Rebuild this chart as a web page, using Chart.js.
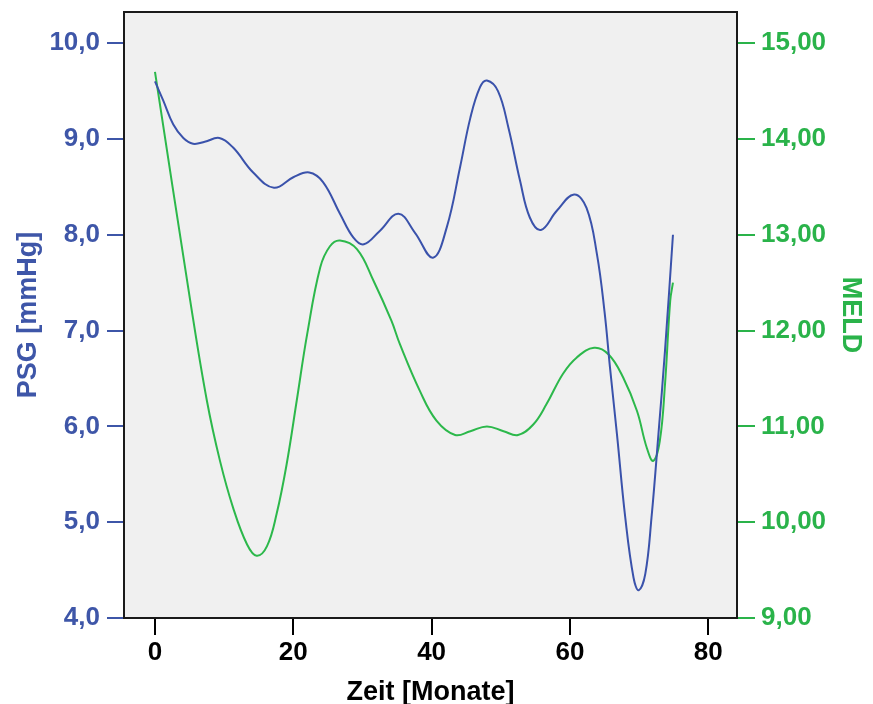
<!DOCTYPE html>
<html>
<head>
<meta charset="utf-8">
<script src="https://cdn.jsdelivr.net/npm/chart.js@4"></script>
<style>
html, body { margin: 0; padding: 0; background: #fff; }
</style>
</head>
<body>
<canvas id="chart-psg" width="873" height="704"></canvas>
<script>
// PSG-Verlauf (blau, linke Achse)
var psgZeit  = [0, 1.2, 2.65, 4.1, 5.5, 7.2, 9.3, 11.3, 14.2, 17.2, 20.0, 22.3, 24.3, 26.75, 28.7, 30.2, 32.5, 35.2, 37.6, 40.2, 42.2, 44.1, 45.6, 47.0, 48.0, 49.6, 51.1, 52.8, 54.2, 55.8, 58.1, 60.6, 62.4, 63.9, 65.0, 65.8, 66.8, 68.0, 69.2, 69.95, 70.9, 71.8, 72.8, 73.75, 74.9];
var psgWerte = [9.60, 9.40, 9.15, 9.01, 8.95, 8.97, 9.01, 8.91, 8.65, 8.49, 8.60, 8.65, 8.55, 8.22, 7.97, 7.90, 8.04, 8.22, 8.02, 7.76, 8.08, 8.70, 9.22, 9.54, 9.61, 9.50, 9.12, 8.56, 8.18, 8.05, 8.25, 8.42, 8.28, 7.80, 7.20, 6.61, 5.92, 5.05, 4.42, 4.29, 4.46, 5.05, 5.92, 6.79, 8.00];

// MELD-Verlauf (gruen, rechte Achse)
var meldZeit  = [0, 5.1, 7.5, 9.4, 11.3, 13.3, 14.7, 16.2, 17.6, 19.05, 20.5, 22.0, 23.9, 25.3, 26.75, 29.2, 31.6, 34.2, 35.4, 38.3, 40.7, 43.4, 45.6, 48.0, 50.4, 52.5, 54.7, 56.6, 59.0, 61.0, 63.5, 65.6, 67.7, 69.7, 71.1, 72.05, 73.0, 73.75, 74.5, 74.9];
var meldWerte = [14.70, 12.31, 11.27, 10.64, 10.15, 9.77, 9.65, 9.75, 10.09, 10.61, 11.27, 11.96, 12.66, 12.88, 12.94, 12.85, 12.52, 12.10, 11.86, 11.37, 11.06, 10.91, 10.95, 11.00, 10.95, 10.91, 11.02, 11.23, 11.55, 11.72, 11.82, 11.75, 11.51, 11.16, 10.78, 10.64, 10.85, 11.44, 12.31, 12.50];

var xTicks    = [0, 20, 40, 60, 80];
var psgTicks  = [4, 5, 6, 7, 8, 9, 10];
var meldTicks = [9, 10, 11, 12, 13, 14, 15];

var blau = '#3e56a8';
var gruen = '#2ab34a';
var schrift = "'Liberation Sans', Arial, sans-serif";

function punkte(xs, ys) {
    return xs.map(function(x, i) { return {x: x, y: ys[i]}; });
}

function ohnePadding(scale) {
    scale.paddingTop = 0;
    scale.paddingBottom = 0;
    scale.paddingLeft = 0;
    scale.paddingRight = 0;
}

var rahmen = {
    id: 'rahmen',
    beforeDraw: function(chart) {
        var a = chart.chartArea, ctx = chart.ctx;
        ctx.save();
        ctx.fillStyle = '#f0f0f0';
        ctx.fillRect(a.left, a.top, a.right - a.left, a.bottom - a.top);
        ctx.restore();
    },
    afterDraw: function(chart) {
        var a = chart.chartArea, ctx = chart.ctx;
        ctx.save();
        ctx.strokeStyle = '#1a1a1a';
        ctx.lineWidth = 2;
        ctx.strokeRect(a.left, a.top, a.right - a.left, a.bottom - a.top);
        ctx.restore();
    }
};

const ctx = document.getElementById('chart-psg').getContext('2d');
const myChart = new Chart(ctx, {
    type: 'scatter',
    data: {
        datasets: [{
            label: 'PSG [mmHg]',
            data: punkte(psgZeit, psgWerte),
            yAxisID: 'y',
            showLine: true,
            borderColor: '#3a52ab',
            borderWidth: 2,
            pointRadius: 0,
            tension: 0.4
        },
        {
            label: 'MELD',
            data: punkte(meldZeit, meldWerte),
            yAxisID: 'y2',
            showLine: true,
            borderColor: '#2cb84b',
            borderWidth: 2,
            pointRadius: 0,
            tension: 0.4
        }]
    },
    options: {
        responsive: false,
        animation: false,
        devicePixelRatio: 1,
        layout: { padding: { top: 12, left: 0, right: 0, bottom: 0 } },
        plugins: { legend: { display: false }, tooltip: { enabled: false } },
        scales: {
            x: {
                type: 'linear',
                position: 'bottom',
                min: -4.48,
                max: 84.16,
                afterBuildTicks: function(s) { s.ticks = xTicks.map(function(v) { return {value: v}; }); },
                afterFit: function(s) { s.height = 86; ohnePadding(s); },
                border: { display: false },
                grid: { drawOnChartArea: false, tickLength: 17, color: '#000', lineWidth: 2 },
                ticks: { color: '#000', padding: 2, maxRotation: 0, font: { family: schrift, size: 26, weight: 'bold' } },
                title: { display: true, text: 'Zeit [Monate]', color: '#000', padding: 0,
                         font: { family: schrift, size: 27, weight: 'bold', lineHeight: 0.85 } }
            },
            y: {
                position: 'left',
                min: 4,
                max: 10.325,
                afterBuildTicks: function(s) { s.ticks = psgTicks.map(function(v) { return {value: v}; }); },
                afterFit: function(s) { s.width = 124; ohnePadding(s); },
                border: { display: false },
                grid: { drawOnChartArea: false, tickLength: 17, color: blau, lineWidth: 2 },
                ticks: { color: blau, padding: 7, font: { family: schrift, size: 26, weight: 'bold' },
                         callback: function(v) { return v.toFixed(1).replace('.', ','); } },
                title: { display: true, text: 'PSG [mmHg]', color: blau, padding: 12,
                         font: { family: schrift, size: 27, weight: 'bold' } }
            },
            y2: {
                position: 'right',
                min: 9,
                max: 15.325,
                afterBuildTicks: function(s) { s.ticks = meldTicks.map(function(v) { return {value: v}; }); },
                afterFit: function(s) { s.width = 136; ohnePadding(s); },
                border: { display: false },
                grid: { drawOnChartArea: false, tickLength: 18, color: gruen, lineWidth: 2 },
                ticks: { color: gruen, padding: 6, font: { family: schrift, size: 26, weight: 'bold' },
                         callback: function(v) { return v.toFixed(2).replace('.', ','); } },
                title: { display: true, text: 'MELD', color: gruen, padding: 6,
                         font: { family: schrift, size: 27, weight: 'bold' } }
            }
        }
    },
    plugins: [rahmen]
});
</script>
</body>
</html>
